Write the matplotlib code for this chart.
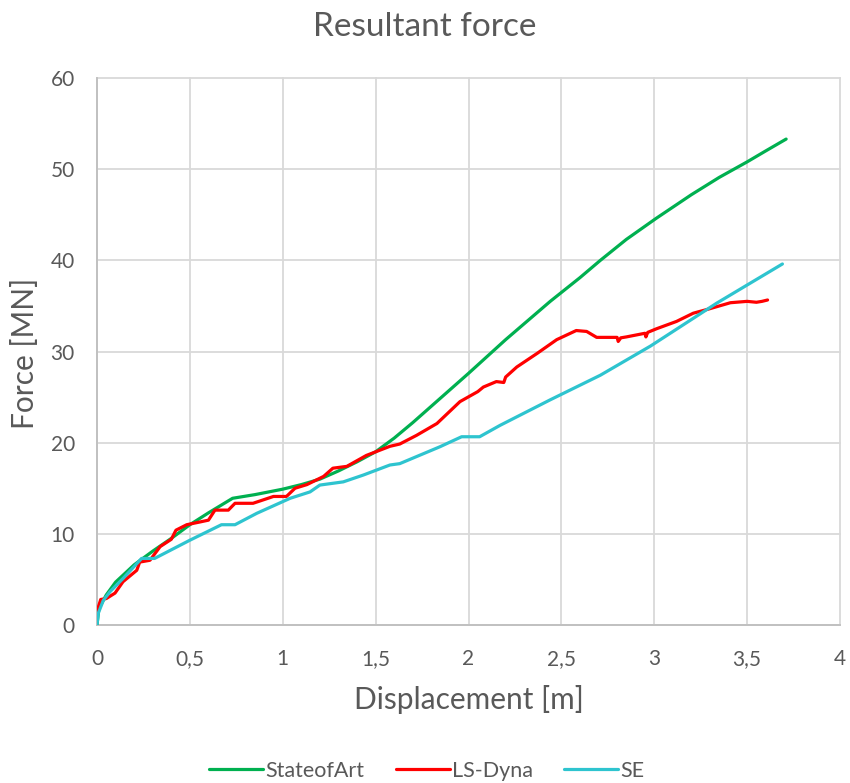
import matplotlib
matplotlib.use("Agg")
import matplotlib.pyplot as plt
import numpy as np

# StateofArt
soa_x = [0.0, 0.01, 0.05, 0.1, 0.2, 0.3, 0.4, 0.5, 0.6, 0.73, 0.85, 1.0, 1.1, 1.2, 1.3, 1.4, 1.5, 1.6,
         1.7, 1.8, 1.9, 2.0, 2.2, 2.44, 2.6, 2.71, 2.85, 3.01, 3.2, 3.35, 3.5, 3.6, 3.71]
soa_y = [0.0, 1.8, 3.3, 4.7, 6.6, 8.1, 9.5, 11.0, 12.3, 13.9, 14.3, 14.9, 15.4, 16.0, 16.9, 17.9, 19.0, 20.5,
         22.2, 24.0, 25.8, 27.6, 31.3, 35.5, 38.1, 40.0, 42.3, 44.6, 47.2, 49.1, 50.8, 52.0, 53.3]

# LS-Dyna
lsd_x = [0.0, 0.02, 0.05, 0.097, 0.14, 0.214, 0.23, 0.285, 0.34, 0.40, 0.425, 0.483, 0.554, 0.60, 0.635,
         0.707, 0.743, 0.84, 0.95, 1.02, 1.066, 1.13, 1.22, 1.27, 1.345, 1.45, 1.577, 1.63, 1.72, 1.83,
         1.954, 2.05, 2.08, 2.15, 2.19, 2.2, 2.26, 2.37, 2.475, 2.58, 2.636, 2.69, 2.80, 2.806, 2.82,
         2.85, 2.95, 2.955, 2.965, 3.013, 3.12, 3.21, 3.30, 3.41, 3.50, 3.55, 3.58, 3.61]
lsd_y = [1.5, 2.8, 2.9, 3.5, 4.75, 6.0, 6.9, 7.1, 8.6, 9.4, 10.4, 11.0, 11.3, 11.5, 12.6,
         12.6, 13.35, 13.35, 14.1, 14.1, 15.0, 15.4, 16.3, 17.2, 17.4, 18.6, 19.6, 19.85, 20.8, 22.1,
         24.5, 25.6, 26.1, 26.7, 26.6, 27.2, 28.3, 29.8, 31.3, 32.3, 32.2, 31.55, 31.55, 31.1, 31.5,
         31.6, 32.0, 31.6, 32.1, 32.5, 33.3, 34.2, 34.7, 35.35, 35.5, 35.4, 35.5, 35.65]

# SE
se_x = [0.0, 0.007, 0.034, 0.07, 0.14, 0.24, 0.31, 0.5, 0.67, 0.743, 0.86, 1.04, 1.147, 1.2, 1.326,
        1.434, 1.577, 1.63, 1.846, 1.963, 2.06, 2.17, 2.44, 2.71, 2.98, 3.336, 3.69]
se_y = [0.0, 1.3, 2.7, 3.65, 5.1, 7.3, 7.3, 9.3, 11.0, 11.0, 12.25, 13.9, 14.6, 15.35, 15.7,
        16.45, 17.55, 17.7, 19.55, 20.65, 20.65, 21.9, 24.7, 27.4, 30.6, 35.3, 39.6]

title = "Resultant force"
xlabel = "Displacement [m]"
ylabel = "Force [MN]"
xticks = [0, 0.5, 1, 1.5, 2, 2.5, 3, 3.5, 4]
xticklabels = ["0", "0,5", "1", "1,5", "2", "2,5", "3", "3,5", "4"]
yticks = [0, 10, 20, 30, 40, 50, 60]

plt.rcParams['font.family'] = ['Lato', 'DejaVu Sans']
txt = '#595959'
W, H = 850, 783

fig = plt.figure(figsize=(8.5, 7.83), dpi=100)
ax = fig.add_axes([97/W, 1-625/H, (840-97)/W, (625-78)/H])

lw = 2.3
ax.plot(soa_x, soa_y, color='#00B050', lw=lw, label='StateofArt', solid_capstyle='round', zorder=3)
ax.plot(lsd_x, lsd_y, color='#FF0000', lw=lw, label='LS-Dyna', solid_capstyle='round', zorder=4)
ax.plot(se_x, se_y, color='#2EC4CF', lw=lw, label='SE', solid_capstyle='round', zorder=5)

ax.set_xlim(0, 4)
ax.set_ylim(0, 60)
ax.set_xticks(xticks)
ax.set_xticklabels(xticklabels)
ax.set_yticks(yticks)
ax.grid(True, color='#D9D9D9', lw=1.3, clip_on=False)
ax.set_axisbelow(True)
for s in ['top', 'right']:
    ax.spines[s].set_visible(False)
for s in ['left', 'bottom']:
    ax.spines[s].set_color('#BFBFBF')
    ax.spines[s].set_linewidth(1.3)
ax.tick_params(length=0, labelsize=15, colors=txt)
ax.tick_params(axis='x', pad=17)
ax.tick_params(axis='y', pad=16)

fig.text(424.5/W, 1-27/H, title, fontsize=24, color=txt, ha='center', va='center')
fig.text(468.5/W, 1-699/H, xlabel, fontsize=21.5, color=txt, ha='center', va='center')
fig.text(25/W, 1-353/H, ylabel, fontsize=21.5, color=txt, ha='center', va='center', rotation=90)

leg = fig.legend(loc='center', bbox_to_anchor=(427/W, 1-771/H), ncol=3, frameon=False,
                 fontsize=15.5, handlelength=2.5, handletextpad=0.12, columnspacing=1.45)
for t in leg.get_texts():
    t.set_color(txt)

fig.savefig('out.png', dpi=100)
